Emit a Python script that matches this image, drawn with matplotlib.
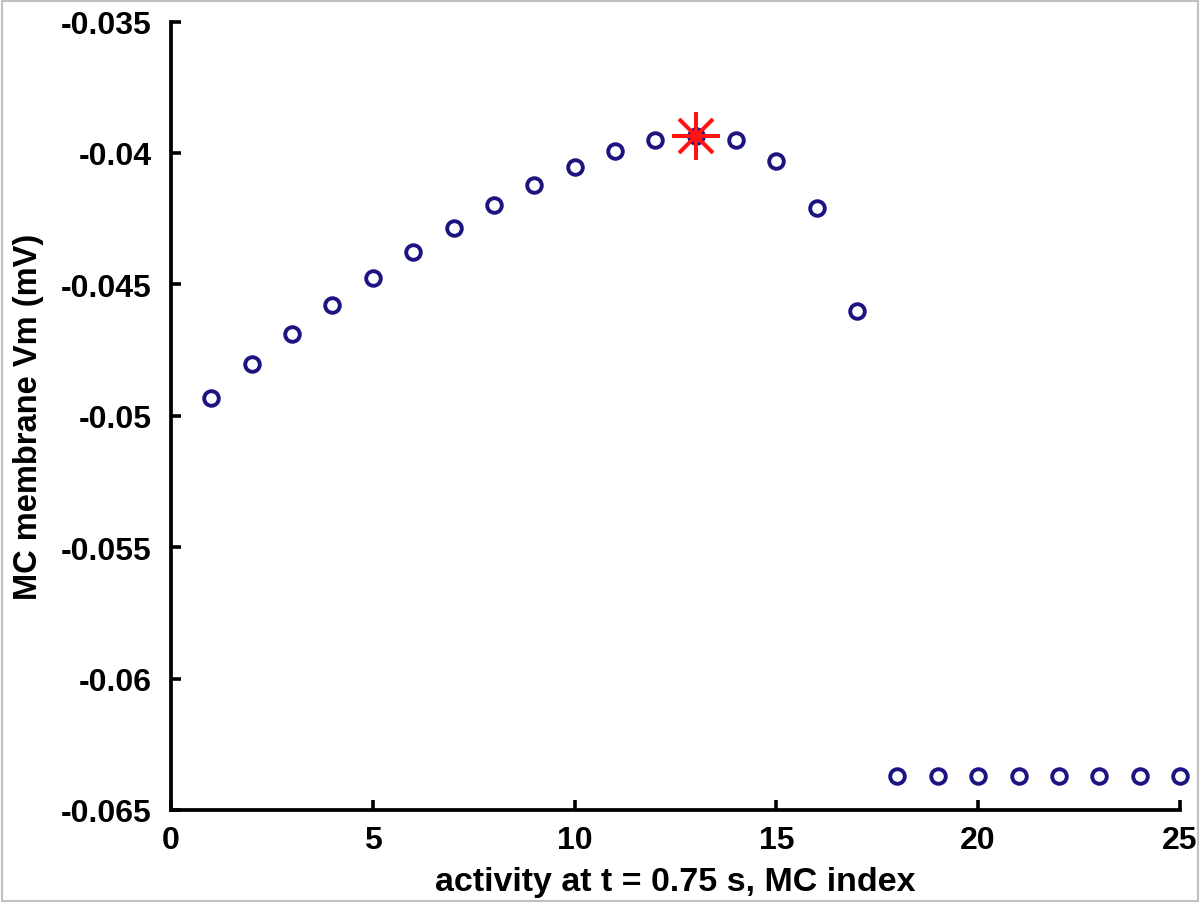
import numpy as np
import matplotlib
matplotlib.use("Agg")
import matplotlib.pyplot as plt
from matplotlib.patches import Rectangle

# ---- data ----
mc_index = np.arange(1, 26)
vm = [-0.04932, -0.04802, -0.04688, -0.04577, -0.04475, -0.04376, -0.04284,
      -0.04197, -0.04121, -0.04052, -0.03991, -0.03949, -0.03934, -0.03949,
      -0.04029, -0.04208, -0.04600,
      -0.06371, -0.06371, -0.06371, -0.06371, -0.06371, -0.06371, -0.06371, -0.06371]
peak_idx = 13
peak_vm = vm[peak_idx - 1]
x_ticks = [0, 5, 10, 15, 20, 25]
y_ticks = [-0.035, -0.04, -0.045, -0.05, -0.055, -0.06, -0.065]
y_ticklabels = ["-0.035", "-0.04", "-0.045", "-0.05", "-0.055", "-0.06", "-0.065"]
# --------------

plt.rcParams["font.family"] = ["Liberation Sans", "DejaVu Sans"]
plt.rcParams["font.weight"] = "bold"

fig = plt.figure(figsize=(12, 9.04), dpi=100)
ax = fig.add_axes([0.1425, 0.1029, 0.8408, 0.8722])

navy = "#1c1480"
ax.plot(mc_index, vm, linestyle="none", marker="o", markersize=10.5,
        markerfacecolor="none", markeredgecolor=navy, markeredgewidth=2.8,
        clip_on=False, zorder=3)

# MATLAB-style asterisk at the peak
ax.plot([peak_idx], [peak_vm], linestyle="none", marker="+", markersize=34,
        markeredgewidth=2.9, color="#ff1414", clip_on=False, zorder=4)
ax.plot([peak_idx], [peak_vm], linestyle="none", marker="x", markersize=24,
        markeredgewidth=2.9, color="#ff1414", clip_on=False, zorder=4)

ax.set_xlim(0, 25)
ax.set_ylim(-0.065, -0.035)
ax.set_xticks(x_ticks)
ax.set_yticks(y_ticks)
ax.set_yticklabels(y_ticklabels)

for side in ["top", "right"]:
    ax.spines[side].set_visible(False)
for side in ["left", "bottom"]:
    ax.spines[side].set_linewidth(2.7)

ax.tick_params(direction="in", length=7.5, width=2.6, labelsize=23)
ax.tick_params(axis="x", pad=11)
ax.tick_params(axis="y", pad=14)
for lbl in ax.get_xticklabels() + ax.get_yticklabels():
    lbl.set_fontweight("bold")

ax.set_xlabel("activity at t = 0.75 s, MC index", fontsize=24.5, fontweight="bold")
ax.xaxis.label.set_va("baseline")
ax.xaxis.set_label_coords(0.5, -0.1015)
ax.set_ylabel("MC membrane Vm (mV)", fontsize=23.5, fontweight="bold")
ax.yaxis.set_label_coords(-0.126, 0.5)

# thin grey frame around the whole figure
fig.patches.append(Rectangle((0.002, 0.002), 0.996, 0.996, transform=fig.transFigure,
                             fill=False, edgecolor="#c0c0c0", linewidth=1.5))

fig.savefig("out.png", dpi=100)
